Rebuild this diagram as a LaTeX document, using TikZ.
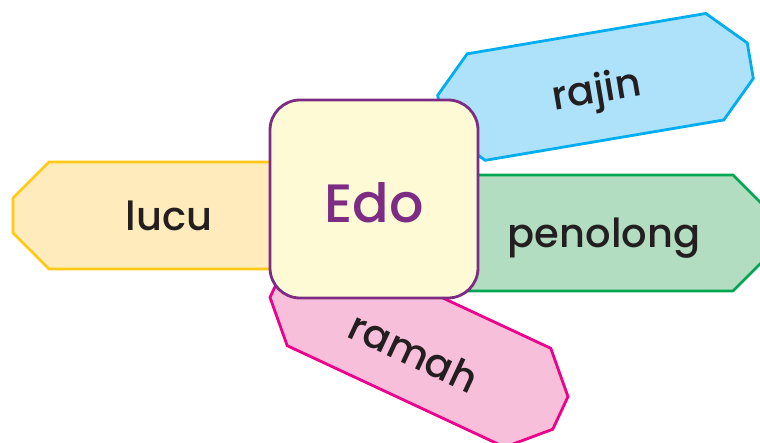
\documentclass[tikz,border=0pt]{standalone}
\usepackage{fontspec}
\setmainfont{Poppins}
\newfontfamily\tagfont{Poppins Medium}
\usetikzlibrary{positioning}

\definecolor{lucufill}{HTML}{FFEBBB}
\definecolor{luculine}{HTML}{FFC915}
\definecolor{rajinfill}{HTML}{AEE2FA}
\definecolor{rajinline}{HTML}{00AEEF}
\definecolor{penofill}{HTML}{B3DDC0}
\definecolor{penoline}{HTML}{00A651}
\definecolor{ramahfill}{HTML}{F7BFDA}
\definecolor{ramahline}{HTML}{EC008C}
\definecolor{edofill}{HTML}{FFFAD6}
\definecolor{edoline}{HTML}{7D2C84}
\definecolor{inkblack}{HTML}{231F20}

\begin{document}
\begin{tikzpicture}[x=1pt,y=1pt]
        % Define styles for shapes
        \tikzset{
            tagshape/.style={line width=2.8pt, line join=miter},
            tagtext/.style={text=inkblack, font=\tagfont\fontsize{40}{40}\selectfont, inner sep=0pt},
            centerbox/.style={draw=edoline, fill=edofill, line width=2.8pt, rounded corners=30pt},
            centertext/.style={text=edoline, font=\tagfont\fontsize{54}{54}\selectfont, inner sep=0pt}
        }
        \useasboundingbox (0,0) rectangle (760,-443);
        \clip (0,0) rectangle (760,-443);

        % lucu (left)
        \begin{scope}[shift={(169.5,-215.5)}]
            \draw[tagshape, draw=luculine, fill=lucufill]
                (-120.5,53.5) -- (120.5,53.5) -- (156.5,17.5) -- (156.5,-17.5)
                -- (120.5,-53.5) -- (-120.5,-53.5) -- (-156.5,-17.5) -- (-156.5,17.5) -- cycle;
        \end{scope}
        \node[tagtext] (lucu) at (169,-216) {lucu};

        % rajin (top right)
        \begin{scope}[shift={(595.5,-86.9)}, rotate=9.6]
            \draw[tagshape, draw=rajinline, fill=rajinfill]
                (-121,54) -- (121,54) -- (157,18) -- (157,-18)
                -- (121,-54) -- (-121,-54) -- (-157,-18) -- (-157,18) -- cycle;
        \end{scope}
        \node[tagtext, rotate=9.6] (rajin) at (597,-93) {rajin};

        % penolong (right)
        \begin{scope}[shift={(600,-233)}]
            \draw[tagshape, draw=penoline, fill=penofill]
                (-133,58) -- (133,58) -- (169,22) -- (169,-22)
                -- (133,-58) -- (-133,-58) -- (-169,-22) -- (-169,22) -- cycle;
        \end{scope}
        \node[tagtext] (penolong) at (604,-238) {penolong};

        % ramah (bottom)
        \begin{scope}[shift={(419,-347)}, rotate=-25]
            \draw[tagshape, draw=ramahline, fill=ramahfill]
                (-120,54.5) -- (120,54.5) -- (156,18) -- (156,-18)
                -- (120,-54.5) -- (-120,-54.5) -- (-156,-18) -- (-156,18) -- cycle;
        \end{scope}
        \node[tagtext, rotate=-25] (ramah) at (414,-352) {ramah};

        % centre box
        \draw[centerbox] (270,-100) rectangle (478,-298);
        \node[centertext] (edo) at (374,-203) {Edo};
    \end{tikzpicture}
\end{document}
